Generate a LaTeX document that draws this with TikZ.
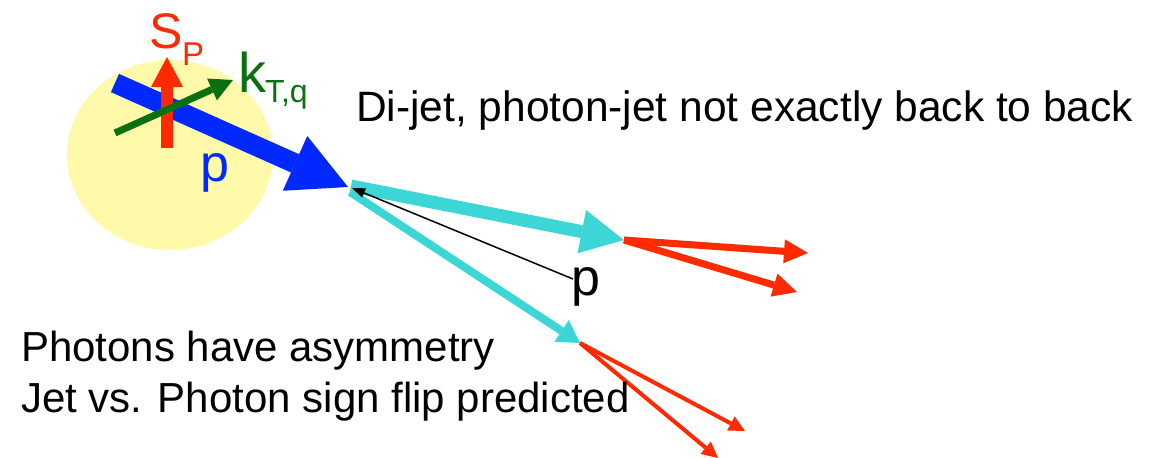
\documentclass[tikz,border=0pt]{standalone}
\usepackage{fontspec}
\setmainfont{Liberation Sans}
\usetikzlibrary{arrows.meta}
\definecolor{protonblue}{RGB}{0,40,255}
\definecolor{spinred}{RGB}{255,42,0}
\definecolor{ktgreen}{RGB}{10,112,16}
\definecolor{jetcyan}{RGB}{60,214,214}
\definecolor{haloyellow}{RGB}{255,250,170}
\tikzset{
  lbl/.style={anchor=base west, inner sep=0pt, outer sep=0pt},
  vec/.style={line cap=butt},
}
\newcommand{\tipof}[2]{-{Triangle[length=#1pt,width=#2pt,line width=0pt]}}
\begin{document}
\begin{tikzpicture}[x=1pt,y=-1pt]
\useasboundingbox (0,0) rectangle (1168,458);

% proton halo
\fill[haloyellow] (170,155) ellipse [x radius=103, y radius=95];

% end points of the vectors
\coordinate (pTail) at (115,83);
\coordinate (vtx)   at (348,187);
\coordinate (sTail) at (167,148);
\coordinate (sTip)  at (167,57);
\coordinate (kTail) at (115,133);
\coordinate (kTip)  at (233,80);
\coordinate (jA0)   at (351,186);
\coordinate (jA)    at (624,240);
\coordinate (jB0)   at (350,192);
\coordinate (jB)    at (580,343);
\coordinate (pT)    at (573,279);
\coordinate (pH)    at (352,188);
\coordinate (rA1)   at (808,253);
\coordinate (rA2)   at (797,292);
\coordinate (rB1)   at (745,431);
\coordinate (rB2)   at (718,458);

% incoming proton, spin and transverse momentum
\draw[vec, protonblue, line width=20pt, \tipof{58}{60}] (pTail) -- (vtx);
\draw[vec, spinred, line width=12pt, \tipof{30}{32}] (sTail) -- (sTip);
\draw[vec, ktgreen, line width=7pt, \tipof{23}{24}] (kTail) -- (kTip);

% outgoing jets
\draw[vec, jetcyan, line width=13pt, \tipof{43}{44}] (jA0) -- (jA);
\draw[vec, jetcyan, line width=8pt, \tipof{22}{26}] (jB0) -- (jB);
\draw[vec, black, line width=1.5pt, \tipof{13}{10}] (pT) -- (pH);

% fragments
\draw[vec, spinred, line width=7pt, \tipof{24}{24}] (jA) -- (rA1);
\draw[vec, spinred, line width=7pt, \tipof{24}{24}] (jA) -- (rA2);
\draw[vec, spinred, line width=4pt, \tipof{16}{16}] (jB) -- (rB1);
\draw[vec, spinred, line width=4pt, \tipof{16}{16}] (jB) -- (rB2);

% labels
\node[lbl, text=spinred, font=\fontsize{50}{50}\selectfont] (sLbl) at (149,48) {S};
\node[lbl, text=spinred, font=\fontsize{33}{33}\selectfont] (sSub) at (182,65) {P};
\node[lbl, text=ktgreen, font=\fontsize{56}{56}\selectfont] (kLbl) at (238,92) {k};
\node[lbl, text=ktgreen, font=\fontsize{32}{32}\selectfont] (kSub) at (265,102) {T,q};
\node[lbl, text=protonblue, font=\fontsize{52}{52}\selectfont] (pLbl) at (200,181) {p};
\node[lbl, font=\fontsize{52}{52}\selectfont] (ptLbl) at (571,295) {p};
\node[lbl, font=\fontsize{42.5}{42.5}\selectfont] (title) at (356,121) {Di-jet, photon-jet not exactly back to back};
\node[lbl, font=\fontsize{42}{42}\selectfont] (note1) at (21,361) {Photons have asymmetry};
\node[lbl, font=\fontsize{42}{42}\selectfont] (note2) at (21,412) {Jet vs. Photon sign flip predicted};
\end{tikzpicture}
\end{document}
